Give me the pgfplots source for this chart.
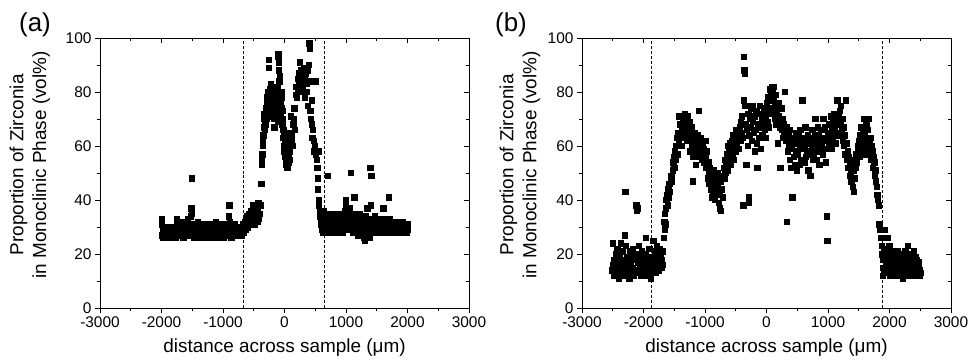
\documentclass[border=0pt]{standalone}
\usepackage{fontspec}
\setmainfont{Liberation Sans}
\usepackage{pgfplots}
\usepackage{pgfplotstable}
\pgfplotsset{compat=1.18}

\pgfplotstableread{
x y
-2000 33
-1995 31
-1990 27
-1985 29
-1975 26
-1965 28
-1955 30
-1945 27
-1935 29
-1925 26
-1915 28
-1905 30
-1895 27
-1885 29
-1875 28
-1865 26
-1855 30
-1845 28
-1835 27
-1825 29
-1815 28
-1805 30
-1795 27
-1785 28
-1775 26
-1765 29
-1755 33
-1745 31
-1735 28
-1725 27
-1715 30
-1705 32
-1695 28
-1685 27
-1675 31
-1665 29
-1655 28
-1645 26
-1635 30
-1625 32
-1615 29
-1605 27
-1595 30
-1585 28
-1575 33
-1565 31
-1555 29
-1545 27
-1535 31
-1525 34
-1515 37
-1510 48
-1505 35
-1495 30
-1485 28
-1475 26
-1465 29
-1455 31
-1445 27
-1435 28
-1425 30
-1415 32
-1405 27
-1395 29
-1385 26
-1375 28
-1365 31
-1355 29
-1345 27
-1335 30
-1325 28
-1315 26
-1305 29
-1295 27
-1285 30
-1275 28
-1265 31
-1255 27
-1245 29
-1235 26
-1225 28
-1215 30
-1205 27
-1195 29
-1185 31
-1175 28
-1165 26
-1155 29
-1145 27
-1135 30
-1125 28
-1115 32
-1105 29
-1095 27
-1085 30
-1075 28
-1065 26
-1055 29
-1045 31
-1035 28
-1025 27
-1015 30
-1005 28
-995 29
-985 26
-975 28
-965 30
-955 27
-945 29
-935 31
-925 28
-915 30
-905 34
-900 38
-895 32
-885 29
-875 27
-865 26
-855 30
-845 28
-835 29
-825 27
-815 31
-805 28
-795 30
-785 27
-775 29
-765 28
-755 30
-745 27
-735 29
-725 28
-715 30
-705 27
-695 28
-685 29
-675 31
-665 28
-655 30
-645 32
-635 29
-625 33
-615 31
-605 34
-595 30
-585 32
-575 35
-565 33
-555 31
-545 36
-535 34
-525 32
-515 38
-505 35
-495 33
-485 31
-475 38
-465 36
-455 34
-445 32
-435 37
-425 39
-415 33
-405 35
-390 38
-380 46
-375 53
-370 55
-360 57
-355 60
-350 62
-345 64
-340 67
-335 70
-330 72
-325 69
-320 66
-315 71
-310 74
-305 68
-300 72
-295 70
-290 76
-285 73
-280 78
-275 71
-270 75
-265 80
-260 92
-255 89
-250 77
-245 74
-240 81
-235 79
-230 72
-225 76
-220 83
-215 78
-210 74
-205 80
-200 71
-195 77
-190 82
-185 75
-180 70
-175 78
-170 73
-165 67
-160 76
-155 72
-150 80
-145 74
-140 70
-135 77
-130 73
-125 71
-120 75
-115 69
-110 82
-105 94
-100 93
-95 91
-90 88
-85 84
-80 86
-75 79
-70 76
-65 72
-60 70
-55 78
-50 74
-45 80
-40 73
-35 68
-30 63
-25 70
-20 66
-15 60
-10 64
-5 58
0 62
5 56
10 60
15 54
20 58
25 53
30 57
35 61
40 55
45 52
50 59
55 53
60 57
65 54
70 63
75 58
80 61
85 55
90 65
100 71
110 62
120 64
130 60
140 68
150 70
160 74
170 66
180 79
190 82
200 78
210 85
220 80
230 83
240 87
250 91
260 84
270 88
280 80
290 86
300 82
310 89
320 85
330 78
340 87
350 83
360 80
370 88
380 75
390 90
400 98
405 96
410 84
420 73
430 70
440 77
445 68
450 63
460 66
470 62
480 58
490 60
500 84
505 57
515 58
525 55
530 52
535 48
540 44
545 58
555 40
560 38
570 36
580 34
590 33
600 31
610 29
620 28
630 33
640 36
650 30
660 28
670 32
680 34
690 29
700 49
705 31
715 33
725 28
735 35
745 30
755 32
765 29
775 34
785 31
795 28
805 33
815 30
825 35
835 29
845 32
855 30
865 28
875 33
885 31
895 35
905 29
915 32
925 30
935 34
945 28
955 31
965 33
975 36
985 30
995 38
1000 40
1010 34
1020 31
1030 35
1040 29
1050 33
1060 37
1070 31
1080 50
1085 34
1095 30
1105 32
1115 28
1125 35
1135 41
1145 30
1155 33
1165 29
1175 31
1185 34
1195 27
1205 32
1215 30
1225 35
1235 28
1245 31
1255 33
1265 27
1275 30
1285 26
1295 32
1305 25
1315 34
1325 29
1335 31
1345 37
1355 33
1365 30
1375 28
1385 26
1395 52
1405 38
1410 49
1415 31
1425 33
1435 29
1445 32
1455 30
1465 34
1475 28
1485 31
1495 33
1505 29
1515 30
1525 32
1535 28
1545 31
1555 33
1565 29
1575 30
1585 32
1595 28
1605 37
1615 31
1625 29
1635 33
1645 30
1655 28
1665 32
1675 29
1685 31
1695 41
1700 33
1710 28
1720 30
1730 32
1740 29
1750 31
1760 28
1770 30
1780 32
1790 29
1800 31
1810 28
1820 30
1830 32
1840 29
1850 31
1860 28
1870 30
1880 29
1890 31
1900 28
1910 30
1920 32
1930 29
1940 28
1950 30
1960 31
1970 29
1980 28
1990 30
2000 29
2005 31
}\dataA

\pgfplotstableread{
x y
-2510 14
-2500 24
-2495 16
-2485 12
-2475 18
-2465 14
-2455 20
-2445 13
-2435 17
-2425 22
-2415 15
-2405 11
-2395 19
-2385 14
-2375 24
-2365 17
-2355 12
-2345 21
-2335 15
-2325 18
-2315 13
-2305 27
-2300 43
-2295 16
-2285 23
-2275 12
-2265 19
-2255 14
-2245 17
-2235 11
-2225 21
-2215 16
-2205 13
-2195 19
-2185 15
-2175 22
-2165 12
-2155 18
-2145 14
-2135 20
-2120 38
-2110 36
-2100 37
-2095 17
-2085 13
-2075 23
-2065 15
-2055 19
-2045 12
-2035 16
-2025 21
-2015 14
-2005 18
-1995 13
-1985 17
-1975 20
-1965 26
-1955 15
-1945 12
-1935 19
-1925 14
-1915 17
-1905 22
-1895 13
-1885 11
-1875 16
-1865 19
-1855 14
-1845 25
-1835 18
-1825 15
-1815 21
-1805 13
-1795 17
-1785 23
-1775 16
-1765 19
-1755 14
-1745 22
-1735 17
-1725 20
-1715 15
-1705 18
-1695 21
-1685 16
-1675 26
-1665 32
-1660 29
-1655 35
-1645 31
-1640 37
-1630 40
-1620 42
-1610 38
-1600 44
-1590 41
-1580 46
-1570 43
-1560 48
-1550 49
-1540 47
-1530 51
-1520 54
-1510 56
-1500 52
-1490 58
-1480 55
-1470 60
-1460 63
-1450 57
-1440 65
-1430 62
-1420 71
-1410 68
-1400 64
-1390 71
-1380 60
-1370 66
-1360 69
-1350 63
-1340 67
-1330 72
-1320 65
-1310 70
-1300 68
-1290 62
-1280 71
-1270 66
-1260 64
-1250 69
-1240 58
-1230 62
-1220 67
-1210 60
-1200 47
-1195 56
-1185 63
-1175 58
-1165 65
-1155 53
-1145 61
-1135 57
-1125 64
-1115 59
-1105 73
-1100 62
-1090 56
-1080 60
-1070 63
-1060 58
-1050 55
-1040 61
-1030 57
-1020 59
-1010 54
-1000 62
-990 56
-980 52
-970 58
-960 48
-950 54
-940 50
-930 46
-920 52
-910 44
-900 49
-890 41
-880 47
-870 43
-860 51
-850 45
-840 40
-830 48
-820 44
-810 42
-800 50
-790 46
-780 39
-770 43
-760 37
-750 47
-740 36
-730 44
-720 49
-710 41
-700 52
-690 48
-680 55
-670 50
-660 53
-650 57
-640 51
-630 60
-620 54
-610 58
-600 56
-590 61
-580 53
-570 59
-560 62
-550 57
-540 64
-530 55
-520 60
-510 63
-500 58
-490 66
-480 61
-470 65
-460 59
-450 64
-440 67
-430 62
-420 69
-410 65
-400 71
-390 63
-380 38
-375 77
-370 93
-360 88
-350 87
-345 75
-340 68
-330 53
-320 66
-310 60
-300 72
-290 41
-285 39
-280 64
-270 70
-260 67
-250 74
-240 62
-230 75
-220 69
-210 65
-200 71
-190 58
-180 66
-170 73
-160 61
-150 52
-140 68
-130 72
-120 63
-110 75
-100 67
-90 59
-80 70
-70 64
-60 72
-50 68
-40 74
-30 66
-20 71
-10 63
0 76
10 69
20 73
30 78
40 67
50 81
60 74
70 79
80 82
90 72
100 80
110 77
120 82
130 70
140 75
150 79
160 68
170 73
180 61
190 76
200 71
210 67
220 52
230 69
240 74
250 66
260 70
270 63
280 68
290 65
300 80
310 62
320 67
330 32
340 58
350 64
360 60
370 66
380 55
390 62
400 52
410 59
420 41
430 63
440 56
450 61
460 53
470 65
480 58
490 51
500 62
510 57
520 64
530 53
540 60
550 66
560 55
570 62
580 77
590 59
600 63
610 54
620 60
630 67
640 56
650 62
660 58
670 64
680 51
690 61
700 57
710 49
720 63
730 59
740 66
750 55
760 61
770 57
780 64
790 70
800 58
810 62
820 55
830 67
840 60
850 64
860 53
870 62
880 58
890 66
900 61
910 57
920 70
930 63
940 59
950 67
960 54
970 62
980 34
990 25
1000 65
1010 60
1020 68
1030 63
1040 71
1050 59
1060 66
1070 62
1080 69
1090 64
1100 72
1110 67
1120 61
1130 70
1140 65
1150 77
1160 68
1170 71
1180 64
1190 73
1200 69
1210 75
1220 66
1230 70
1240 62
1250 67
1260 60
1270 64
1280 57
1290 77
1300 61
1310 55
1320 58
1330 52
1340 56
1350 49
1360 54
1370 50
1380 47
1390 53
1400 45
1410 51
1420 43
1430 48
1440 55
1450 52
1460 57
1470 54
1480 60
1490 58
1500 62
1510 56
1520 64
1530 60
1540 67
1550 63
1560 58
1570 66
1580 61
1590 70
1600 64
1610 57
1620 68
1630 62
1640 59
1650 66
1660 70
1670 61
1680 57
1690 63
1700 55
1710 60
1720 58
1730 52
1740 56
1750 54
1760 49
1770 51
1780 47
1790 45
1800 42
1810 40
1820 38
1830 31
1840 30
1850 29
1860 26
1870 23
1880 20
1885 15
1890 12
1895 18
1905 22
1915 14
1925 29
1935 17
1945 21
1955 13
1965 26
1975 19
1985 15
1995 23
2005 12
2015 18
2025 16
2035 21
2045 14
2055 19
2065 12
2075 17
2085 20
2095 15
2105 18
2115 13
2125 21
2135 16
2145 19
2155 14
2165 17
2175 12
2185 20
2195 15
2205 18
2215 11
2225 16
2235 19
2245 13
2255 21
2265 15
2275 12
2285 17
2295 23
2305 14
2315 19
2325 16
2335 12
2345 20
2355 15
2365 18
2375 13
2385 17
2395 21
2405 14
2415 19
2425 12
2435 16
2445 18
2455 13
2465 17
2475 15
2485 12
2495 14
2505 13
}\dataB

\pgfplotsset{
  panel/.style={
    scale only axis, width=369bp, height=270bp,
    xmin=-3000, xmax=3000, ymin=0, ymax=100,
    axis line style={line width=0.9pt},
    every tick/.style={line width=0.9pt, black},
    major tick length=5bp, minor tick length=3bp,
    xtick={-3000,-2000,...,3000},
    xticklabels={-3000,-2000,-1000,0,1000,2000,3000},
    ytick={0,20,...,100},
    yticklabels={0,20,40,60,80,100},
    minor x tick num=1, minor y tick num=1,
    /pgf/number format/assume math mode=true,
    tick label style={font=\fontsize{15.5}{18}\selectfont},
    label style={font=\fontsize{19}{23}\selectfont},
    xlabel={distance across sample (μm)},
    ylabel={Proportion of Zirconia\\in Monoclinic Phase (vol\%)},
    ylabel style={align=center},
    xlabel style={at={(axis description cs:0.5,-0.148)}, anchor=center},
    tick align=outside, xtick pos=bottom, ytick pos=left,
    clip=false,
  },
  mirror/.style={
    scale only axis, width=369bp, height=270bp,
    xmin=-3000, xmax=3000, ymin=0, ymax=100,
    axis line style={line width=0.9pt},
    every tick/.style={line width=0.9pt, black},
    major tick length=5bp, minor tick length=3bp,
    xtick={-3000,-2000,...,3000}, ytick={0,20,...,100},
    minor x tick num=1, minor y tick num=1,
    xticklabels={}, yticklabels={},
    tick align=inside, xtick pos=top, ytick pos=right,
  },
  dline/.style={black, line width=1.1pt, dash pattern=on 3pt off 2pt},
  pts/.style={only marks, mark=square*, mark size=2.7bp, black},
}

\begin{document}
\begin{tikzpicture}
\path[use as bounding box] (0,0) rectangle (968bp,363bp);
% panel (a)
\begin{axis}[panel, at={(100bp,55bp)}, anchor=south west,
  ylabel style={at={(axis description cs:-0.19,0.53)}, anchor=center}]
\addplot[dline] coordinates {(-660,0) (-660,100)};
\addplot[dline] coordinates {(655,0) (655,100)};
\addplot[pts] table[x=x,y=y] {\dataA};
\end{axis}
\begin{axis}[mirror, at={(100bp,55bp)}, anchor=south west]
\end{axis}
% panel (b)
\begin{axis}[panel, at={(582bp,55bp)}, anchor=south west,
  ylabel style={at={(axis description cs:-0.168,0.53)}, anchor=center}]
\addplot[dline] coordinates {(-1870,0) (-1870,100)};
\addplot[dline] coordinates {(1890,0) (1890,100)};
\addplot[pts] table[x=x,y=y] {\dataB};
\end{axis}
\begin{axis}[mirror, at={(582bp,55bp)}, anchor=south west]
\end{axis}
\node[font=\fontsize{26}{30}\selectfont] at (35bp,338bp) {(a)};
\node[font=\fontsize{26}{30}\selectfont] at (511bp,338bp) {(b)};
\end{tikzpicture}
\end{document}
